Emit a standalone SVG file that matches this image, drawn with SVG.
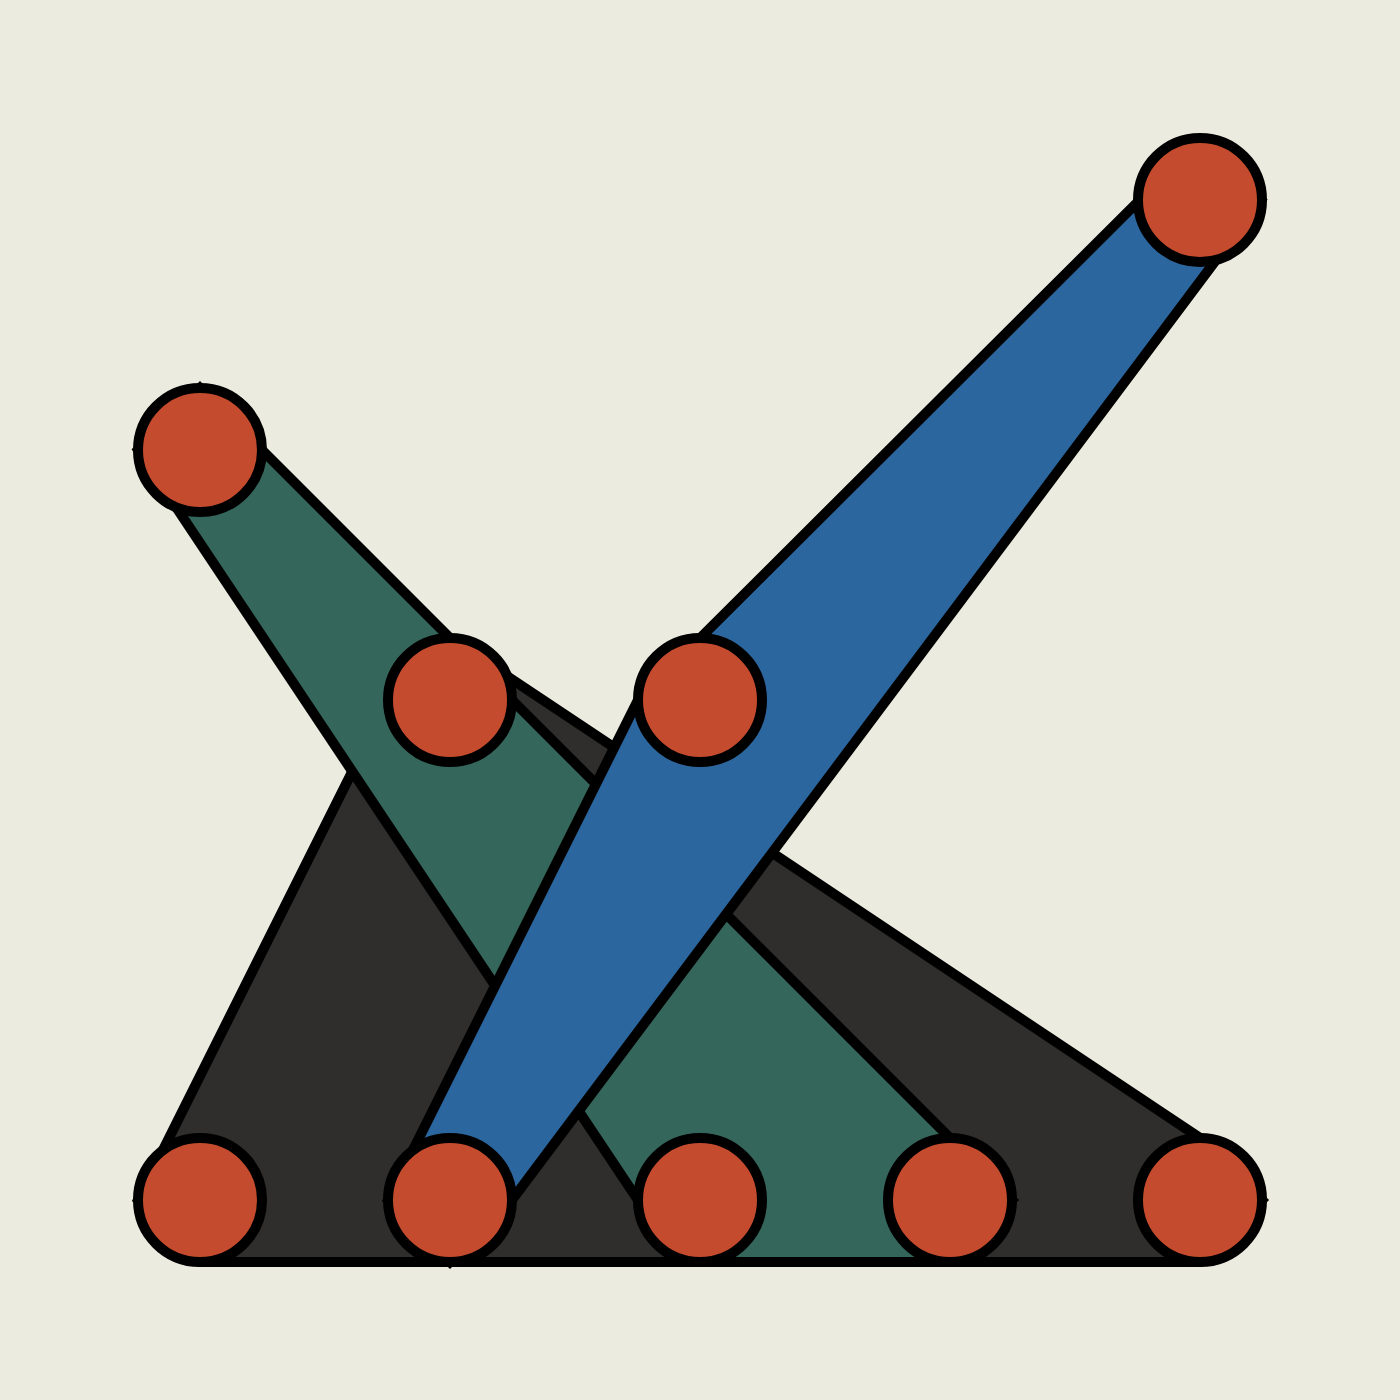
<svg xmlns="http://www.w3.org/2000/svg" width="1400" height="1400" viewBox="0 0 1400 1400">
<style>
.hull{stroke:#000;stroke-width:10;stroke-linejoin:miter}
.dark{fill:#2F2E2C}
.green{fill:#35665C}
.blue{fill:#2B669E}
.node{fill:#C44B2D;stroke:#000;stroke-width:10}
</style>
<rect width="1400" height="1400" fill="#EBEBDF"/>
<g id="connectors">
<polygon class="hull dark" points="200,1262 1200,1262 1262,1200 1200,1138 450,638 388,700 138,1200"/>
<polygon class="hull green" points="200,388 1012,1200 950,1262 700,1262 638,1200 138,450"/>
<polygon class="hull blue" points="1200,140 1261,200 512,1200 450,1262 388,1200 638,700"/>
</g>
<g id="n1"><circle class="node" cx="200" cy="450" r="62"/></g>
<g id="n2"><circle class="node" cx="450" cy="700" r="62"/></g>
<g id="n3"><circle class="node" cx="700" cy="700" r="62"/></g>
<g id="n4"><circle class="node" cx="1200" cy="200" r="62"/></g>
<g id="n5"><circle class="node" cx="200" cy="1200" r="62"/></g>
<g id="n6"><circle class="node" cx="450" cy="1200" r="62"/></g>
<g id="n7"><circle class="node" cx="700" cy="1200" r="62"/></g>
<g id="n8"><circle class="node" cx="950" cy="1200" r="62"/></g>
<g id="n9"><circle class="node" cx="1200" cy="1200" r="62"/></g>
</svg>
